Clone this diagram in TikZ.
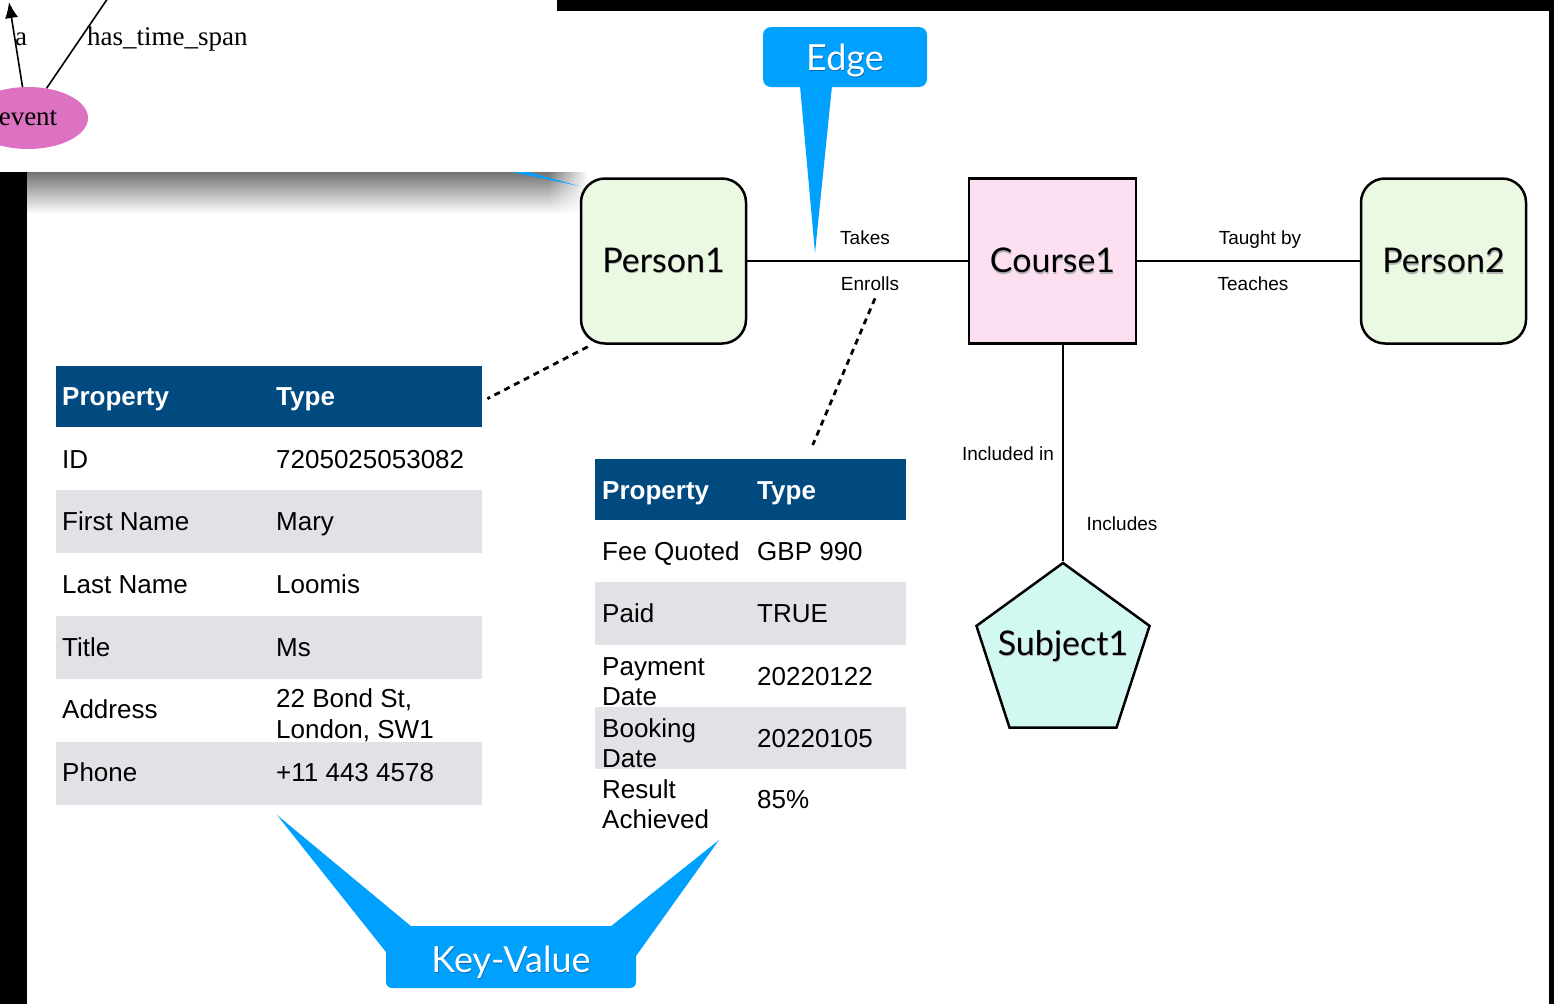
\documentclass[tikz,border=0pt]{standalone}
\usepackage{fontspec}
\setmainfont{Liberation Sans}
\newfontfamily\humanist{Lato}
\newfontfamily\serifinset{Liberation Serif}
\usetikzlibrary{shapes.geometric,calc,arrows.meta,fadings}

\definecolor{callout}{RGB}{0,161,254}
\definecolor{calloutdeep}{RGB}{0,105,185}
\definecolor{headnavy}{RGB}{0,74,128}
\definecolor{rowgray}{RGB}{225,225,230}
\definecolor{persongreen}{RGB}{235,248,226}
\definecolor{coursepink}{RGB}{252,223,240}
\definecolor{subjectcyan}{RGB}{210,248,242}
\definecolor{eventpink}{RGB}{222,114,194}

% text with a soft drop shadow underneath
\newcommand\shadowed[2]{\leavevmode\rlap{\raisebox{-1.8pt}{\kern0.6pt\color{#1}#2}}#2}

\tikzset{
  entity/.style={draw=black, line width=2.5pt, minimum width=165pt, minimum height=165pt,
    inner sep=0pt, font=\humanist\fontsize{34}{40}\selectfont},
  person/.style={entity, fill=persongreen, rounded corners=24pt},
  course/.style={entity, fill=coursepink, minimum width=167pt},
  subject/.style={draw=black, line width=2.5pt, fill=subjectcyan, regular polygon,
    regular polygon sides=5, minimum size=182pt, inner sep=0pt},
  entitytext/.style={anchor=base, inner sep=0pt, font=\humanist\fontsize{34}{40}\selectfont},
  link/.style={line width=2pt},
  elabel/.style={anchor=base, inner sep=0pt, font=\fontsize{19}{22}\selectfont},
  dotlink/.style={line width=2.8pt, dash pattern=on 6pt off 5pt},
  cell/.style={anchor=base west, inner sep=0pt, font=\fontsize{26}{30}\selectfont},
  headcell/.style={cell, text=white, font=\bfseries\fontsize{26}{30}\selectfont},
  headbar/.style={fill=headnavy, anchor=north west, inner sep=0pt, minimum height=61pt},
  calloutbox/.style={fill=callout, rounded corners=8pt, inner sep=0pt, text=white,
    font=\humanist\fontsize{36}{40}\selectfont},
  insettext/.style={anchor=base west, inner sep=0pt, font=\serifinset\fontsize{27}{30}\selectfont},
}

\begin{document}
\begin{tikzpicture}[x=1pt, y=-1pt]
\useasboundingbox (0,0) rectangle (1554,1004);
\clip (0,0) rectangle (1554,1004);

% backdrop and canvas
\fill[black] (0,0) rectangle (1554,1004);
\fill[white] (27,11) rectangle (1549,1004);

% drop shadow of the overlay panel, fading out past its right edge
\shade[top color=black!55, bottom color=white] (27,172) rectangle (548,214);
\shade[top color=black!55, bottom color=white, path fading=east] (548,172) rectangle (588,214);

% tail of a callout running behind the panel
\fill[callout] (512,172) -- (528,172) -- (579,186) -- cycle;

% overlay panel with the event graph
\begin{scope}
  \fill[white] (0,0) rectangle (557,172);
  \clip (0,0) rectangle (557,172);
  \node[ellipse, fill=eventpink, minimum width=120pt, minimum height=62pt, inner sep=0pt,
        font=\serifinset\fontsize{27}{30}\selectfont] (event) at (28,118) {event};
  \coordinate (aTop) at (9,2);
  \coordinate (spanTop) at (108,-2);
  \draw[line width=1.6pt, -{Latex[length=16pt,width=13pt]}] (event.100) -- (aTop);
  \draw[line width=1.6pt] (event.58) -- (spanTop);
  \node[insettext] (aLabel) at (15,45) {a};
  \node[insettext] (spanLabel) at (87,45) {has\_time\_span};
\end{scope}

% entities
\node[person] (Person1) at (663.5,261) {\shadowed{black!30}{Person1}};
\node[course] (Course1) at (1052.5,261) {\shadowed{black!30}{Course1}};
\node[person] (Person2) at (1443.5,261) {\shadowed{black!30}{Person2}};
\node[subject] (Subject1) at (1063,654) {};
\node[entitytext] (Subject1text) at (1063,655) {\shadowed{black!30}{Subject1}};

% relationships
\draw[link] (Person1) -- (Course1);
\draw[link] (Course1) -- (Person2);
\draw[link] (Course1.south -| Subject1.corner 1) -- (Subject1.corner 1);

\node[elabel] (lTakes) at (865,244) {Takes};
\node[elabel] (lEnrolls) at (870,290) {Enrolls};
\node[elabel] (lTaught) at (1260,244) {Taught by};
\node[elabel] (lTeaches) at (1253,290) {Teaches};
\node[elabel] (lIncluded) at (1008,460) {Included in};
\node[elabel] (lIncludes) at (1122,530) {Includes};

% property table of the person
\node[headbar, minimum width=426pt] (t1head) at (56,366) {};
\fill[rowgray] (56,490) rectangle (482,553);
\fill[rowgray] (56,616) rectangle (482,679);
\fill[rowgray] (56,742) rectangle (482,805);
\node[headcell] (t1hk) at (62,405) {Property};
\node[headcell] (t1hv) at (276,405) {Type};
\node[cell] (t1k1) at (62,468) {ID};
\node[cell] (t1v1) at (276,468) {7205025053082};
\node[cell] (t1k2) at (62,530) {First Name};
\node[cell] (t1v2) at (276,530) {Mary};
\node[cell] (t1k3) at (62,593) {Last Name};
\node[cell] (t1v3) at (276,593) {Loomis};
\node[cell] (t1k4) at (62,656) {Title};
\node[cell] (t1v4) at (276,656) {Ms};
\node[cell] (t1k5) at (62,718) {Address};
\node[cell] (t1v5a) at (276,707) {22 Bond St,};
\node[cell] (t1v5b) at (276,738) {London, SW1};
\node[cell] (t1k6) at (62,781) {Phone};
\node[cell] (t1v6) at (276,781) {+11 443 4578};

% property table of the enrolment
\node[headbar, minimum width=311pt] (t2head) at (595,459) {};
\fill[rowgray] (595,582) rectangle (906,645);
\fill[rowgray] (595,707) rectangle (906,769);
\node[headcell] (t2hk) at (602,499) {Property};
\node[headcell] (t2hv) at (757,499) {Type};
\node[cell] (t2k1) at (602,560) {Fee Quoted};
\node[cell] (t2v1) at (757,560) {GBP 990};
\node[cell] (t2k2) at (602,622) {Paid};
\node[cell] (t2v2) at (757,622) {TRUE};
\node[cell] (t2k3a) at (602,675) {Payment};
\node[cell] (t2k3b) at (602,705) {Date};
\node[cell] (t2v3) at (757,685) {20220122};
\node[cell] (t2k4a) at (602,737) {Booking};
\node[cell] (t2k4b) at (602,767) {Date};
\node[cell] (t2v4) at (757,747) {20220105};
\node[cell] (t2k5a) at (602,798) {Result};
\node[cell] (t2k5b) at (602,828) {Achieved};
\node[cell] (t2v5) at (757,808) {85\%};

% dotted links from graph elements to their properties
\draw[dotlink] ($(Person1.south west)+(8,2)$) -- ($(t1head.east)+(5,2)$);
\draw[dotlink] ($(lEnrolls.south)+(5,8)$) -- ($(t2head.north)+(62,-14)$);

% callouts
\fill[callout] (800,86) -- (815,253) -- (832,86) -- cycle;
\node[calloutbox, minimum width=164pt, minimum height=60pt, text height=30pt, text depth=4pt]
  (edgecall) at (845,57) {\shadowed{calloutdeep}{Edge}};

\fill[callout] (412,927) -- (277,815) -- (386,952) -- cycle;
\fill[callout] (610,927) -- (719,840) -- (636,956) -- cycle;
\node[calloutbox, rounded corners=6pt, minimum width=250pt, minimum height=62pt,
      text height=32pt, text depth=2pt] (kvcall)
  at (511,957) {\shadowed{calloutdeep}{Key-Value}};
\end{tikzpicture}
\end{document}
